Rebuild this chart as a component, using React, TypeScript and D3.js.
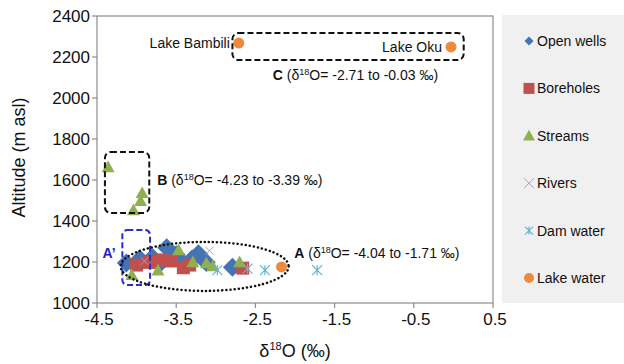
import React from "react";
import * as d3 from "d3";

const xTicks = [-4.5, -3.5, -2.5, -1.5, -0.5, 0.5];
const yTicks = [1000, 1200, 1400, 1600, 1800, 2000, 2200, 2400];

const openWells: [number, number][] = [
  [-4.13, 1195], [-3.96, 1215], [-3.8, 1222], [-3.7, 1195], [-3.62, 1270],
  [-3.5, 1235], [-3.4, 1192], [-3.3, 1215], [-3.22, 1240], [-3.12, 1198], [-2.79, 1175],
];
const boreholes: [number, number][] = [
  [-4.0, 1185], [-3.84, 1198], [-3.69, 1210], [-3.56, 1205], [-3.41, 1172],
  [-3.33, 1185], [-2.66, 1170],
];
const streams: [number, number][] = [
  [-4.36, 1663], [-3.93, 1537], [-3.95, 1498], [-4.04, 1454],
  [-4.06, 1137], [-3.73, 1160], [-3.47, 1258], [-3.29, 1200], [-3.12, 1195],
  [-3.04, 1180], [-2.7, 1200],
];
const rivers: [number, number][] = [[-3.08, 1255], [-3.9, 1205]];
const damWater: [number, number][] = [[-2.98, 1160], [-2.6, 1168], [-2.38, 1160], [-1.72, 1160]];
const lakeWater: [number, number][] = [[-2.71, 2268], [-0.03, 2249], [-2.17, 1176]];

const legendLabels = ["Open wells", "Boreholes", "Streams", "Rivers", "Dam water", "Lake water"];
const colors = ["#4573b3", "#c0504d", "#8fb04f", "#a79cc4", "#5fb8d4", "#ee8a3c"];

// annotation regions in data units
const boxC = { x0: -2.79, x1: 0.13, y0: 2185, y1: 2317 };
const boxB = { x0: -4.4, x1: -3.84, y0: 1439, y1: 1737 };
const boxAp = { x0: -4.18, x1: -3.83, y0: 1088, y1: 1356 };
const ellA = { x0: -4.2, x1: -2.08, y0: 1059, y1: 1298 };

const FONT = "'Liberation Sans', Arial, sans-serif";

function Marker({ kind, x, y, s, color }: { kind: number; x: number; y: number; s: number; color: string }) {
  if (kind === 0) {
    return <path d={`M${x},${y - s}L${x + s},${y}L${x},${y + s}L${x - s},${y}Z`} fill={color} />;
  }
  if (kind === 1) {
    return <rect x={x - s} y={y - s} width={2 * s} height={2 * s} fill={color} />;
  }
  if (kind === 2) {
    return <path d={`M${x},${y - s}L${x + s},${y + s * 0.8}L${x - s},${y + s * 0.8}Z`} fill={color} />;
  }
  if (kind === 3) {
    return (
      <path d={`M${x - s},${y - s}L${x + s},${y + s}M${x - s},${y + s}L${x + s},${y - s}`} stroke={color} strokeWidth={1} fill="none" />
    );
  }
  if (kind === 4) {
    return (
      <path
        d={`M${x - s},${y - s}L${x + s},${y + s}M${x - s},${y + s}L${x + s},${y - s}M${x},${y - s}L${x},${y + s}`}
        stroke={color}
        strokeWidth={1.2}
        fill="none"
      />
    );
  }
  return <circle cx={x} cy={y} r={s} fill={color} />;
}

export default function App() {
  const W = 624, H = 364;
  const left = 97, right = 493, top = 16, bottom = 303;
  const x = d3.scaleLinear().domain([-4.5, 0.5]).range([left, right]);
  const y = d3.scaleLinear().domain([1000, 2400]).range([bottom, top]);

  const series: { data: [number, number][]; kind: number; size: number }[] = [
    { data: openWells, kind: 0, size: 9.5 },
    { data: boreholes, kind: 1, size: 6.5 },
    { data: streams, kind: 2, size: 6.5 },
    { data: rivers, kind: 3, size: 4 },
    { data: damWater, kind: 4, size: 5 },
    { data: lakeWater, kind: 5, size: 5.5 },
  ];
  const legendSizes = [4.5, 5.5, 6, 5, 4, 5];
  const legendY = d3.scalePoint<number>().domain(d3.range(6)).range([41, 278]);

  const rectFrom = (b: { x0: number; x1: number; y0: number; y1: number }) => ({
    x: x(b.x0),
    y: y(b.y1),
    width: x(b.x1) - x(b.x0),
    height: y(b.y0) - y(b.y1),
  });
  const rc = rectFrom(boxC), rb = rectFrom(boxB), ra = rectFrom(boxAp);

  return (
    <svg width={W} height={H} style={{ position: "absolute", left: 0, top: 0, fontFamily: FONT }}>
      <rect x={0} y={0} width={W} height={H} fill="#fff" />
      {/* legend panel */}
      <rect x={502} y={15} width={122} height={288} fill="#f0f0f0" />
      {/* plot frame */}
      <rect x={left} y={top} width={right - left} height={bottom - top} fill="none" stroke="#8c8c8c" strokeWidth={1.2} />
      {/* ticks */}
      {yTicks.map((t) => (
        <g key={"y" + t}>
          <line x1={left - 5} x2={left} y1={y(t)} y2={y(t)} stroke="#8c8c8c" strokeWidth={1.2} />
          <text x={left - 7} y={y(t)} dy="0.36em" textAnchor="end" fontSize={17} fill="#111">
            {t}
          </text>
        </g>
      ))}
      {xTicks.map((t) => (
        <g key={"x" + t}>
          <line x1={x(t)} x2={x(t)} y1={bottom} y2={bottom + 5} stroke="#8c8c8c" strokeWidth={1.2} />
          <text x={x(t) + 2} y={bottom + 22} textAnchor="middle" fontSize={17} fill="#111">
            {t}
          </text>
        </g>
      ))}
      {/* axis titles */}
      <text transform={`translate(25,${(top + bottom) / 2 - 2}) rotate(-90)`} textAnchor="middle" fontSize={18} fill="#111">
        Altitude (m asl)
      </text>
      <text x={(left + right) / 2} y={357} textAnchor="middle" fontSize={18} fill="#111">
        δ<tspan dy="-7" fontSize={11}>18</tspan>
        <tspan dy="7">O (‰)</tspan>
      </text>

      {/* data */}
      {series.map((s, i) =>
        s.data.map((d, j) => (
          <Marker key={i + "-" + j} kind={s.kind} x={x(d[0])} y={y(d[1])} s={s.size} color={colors[i]} />
        ))
      )}

      {/* annotations */}
      <rect {...rc} rx={6} fill="none" stroke="#111" strokeWidth={2} strokeDasharray="6 3" />
      <rect {...rb} rx={6} fill="none" stroke="#111" strokeWidth={2} strokeDasharray="6 3" />
      <rect {...ra} rx={5} fill="none" stroke="#2b2bd0" strokeWidth={2} strokeDasharray="6 3" />
      <ellipse
        cx={(x(ellA.x0) + x(ellA.x1)) / 2}
        cy={(y(ellA.y0) + y(ellA.y1)) / 2}
        rx={(x(ellA.x1) - x(ellA.x0)) / 2}
        ry={(y(ellA.y0) - y(ellA.y1)) / 2}
        fill="none"
        stroke="#111"
        strokeWidth={2.5}
        strokeDasharray="0.1 4"
        strokeLinecap="round"
      />
      <text x={x(lakeWater[0][0]) - 9} y={y(lakeWater[0][1])} dy="0.35em" textAnchor="end" fontSize={14} fill="#111">
        Lake Bambili
      </text>
      <text x={x(lakeWater[1][0]) - 9} y={y(lakeWater[1][1])} dy="0.35em" textAnchor="end" fontSize={14} fill="#111">
        Lake Oku
      </text>
      <text x={x(-2.28)} y={y(2112)} dy="0.35em" fontSize={14} fill="#111">
        <tspan fontWeight="bold">C</tspan> (δ<tspan dy="-5" fontSize={9}>18</tspan>
        <tspan dy="5">O= -2.71 to -0.03 ‰)</tspan>
      </text>
      <text x={x(-3.74)} y={y(1600)} dy="0.35em" fontSize={14} fill="#111">
        <tspan fontWeight="bold">B</tspan> (δ<tspan dy="-5" fontSize={9}>18</tspan>
        <tspan dy="5">O= -4.23 to -3.39 ‰)</tspan>
      </text>
      <text x={x(-2.01)} y={y(1245)} dy="0.35em" fontSize={14} fill="#111">
        <tspan fontWeight="bold">A</tspan> (δ<tspan dy="-5" fontSize={9}>18</tspan>
        <tspan dy="5">O= -4.04 to -1.71 ‰)</tspan>
      </text>
      <text x={x(-4.43)} y={y(1245)} dy="0.35em" fontSize={14} fontWeight="bold" fill="#2020c0">
        A’
      </text>

      {/* legend */}
      {legendLabels.map((l, i) => (
        <g key={l}>
          <Marker kind={series[i].kind} x={529} y={legendY(i)!} s={legendSizes[i]} color={colors[i]} />
          <text x={537} y={legendY(i)!} dy="0.35em" fontSize={14} fill="#111">
            {l}
          </text>
        </g>
      ))}
    </svg>
  );
}
